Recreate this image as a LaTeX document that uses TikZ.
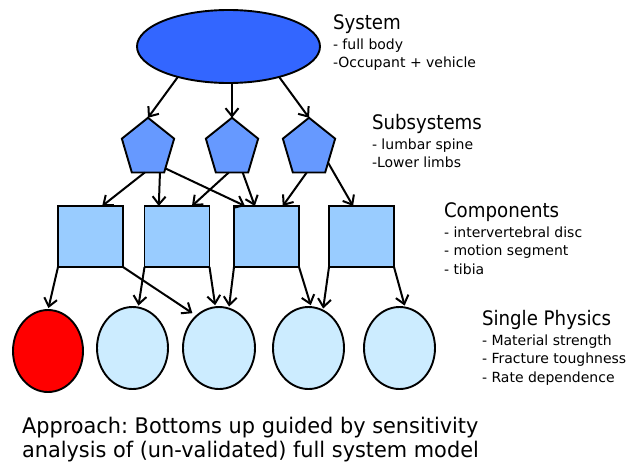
\documentclass[tikz,border=0pt]{standalone}
\usepackage{fontspec}
\setmainfont{DejaVu Sans}
\newfontfamily\headfont[FakeStretch=0.91]{DejaVu Sans}
\newfontfamily\notefont[FakeStretch=0.97]{DejaVu Sans}
\usetikzlibrary{shapes.geometric,arrows.meta,calc}
\frenchspacing

\definecolor{sysblue}{HTML}{3366FF}
\definecolor{subblue}{HTML}{6699FF}
\definecolor{compblue}{HTML}{99CCFF}
\definecolor{physblue}{HTML}{CCECFF}
\definecolor{physred}{HTML}{FF0000}

\begin{document}
\begin{tikzpicture}[x=1pt,y=-1pt,
  every node/.style={inner sep=0pt, outer sep=0pt},
  shapeline/.style={draw=black, line width=1.9pt},
  sysnode/.style={shapeline, ellipse, fill=sysblue, minimum width=183pt, minimum height=73pt},
  subnode/.style={shapeline, regular polygon, regular polygon sides=5, fill=subblue,
                  minimum size=55pt, yscale=1.1, transform shape},
  compnode/.style={shapeline, rectangle, fill=compblue, minimum width=65pt, minimum height=61pt},
  physnode/.style={shapeline, ellipse, fill=physblue, minimum width=71pt, minimum height=82pt},
  edge/.style={draw=black, line width=2pt, -{Straight Barb[length=8pt,width=13pt]}},
  heading/.style={anchor=base west, font=\headfont\fontsize{20}{24}\selectfont},
  itemlist/.style={anchor=base west, font=\fontsize{14}{18.5}\selectfont},
  note/.style={anchor=base west, font=\notefont\fontsize{21.5}{24.5}\selectfont},
]
\useasboundingbox (0,0) rectangle (628,466);

% system level
\node[sysnode] (E) at (228.5,46.5) {};

% subsystems
\node[subnode] (P1) at (148,148) {};
\node[subnode] (P2) at (232,148) {};
\node[subnode] (P3) at (309,148) {};

% components
\node[compnode] (R1) at (90.5,236.5) {};
\node[compnode] (R2) at (177,236.5) {};
\node[compnode] (R3) at (266.5,236.5) {};
\node[compnode] (R4) at (361.5,236.5) {};

% single physics
\node[physnode, fill=physred, minimum width=70pt] (C1) at (48,351) {};
\node[physnode] (C2) at (132.5,348) {};
\node[physnode, minimum width=72pt] (C3) at (219,348) {};
\node[physnode] (C4) at (308.5,348) {};
\node[physnode] (C5) at (399.5,348) {};

% system -> subsystems
\draw[edge] (E.211) -- (P1.north);
\draw[edge] (E.south -| P2.north) -- (P2.north);
\draw[edge] (E.329) -- (P3.north);

% subsystems -> components
\draw[edge] ($(P1.corner 3)!0.4!(P1.corner 4)$) -- ($(R1.north west)!0.68!(R1.north east)$);
\draw[edge] ($(P1.corner 3)!0.87!(P1.corner 4)$) -- ($(R2.north west)!0.22!(R2.north east)$);
\draw[edge] ($(P1.corner 4)!0.12!(P1.corner 5)$) -- ($(R3.north west)!0.17!(R3.north east)$);
\draw[edge] ($(P2.corner 3)!0.4!(P2.corner 4)$) -- ($(R2.north west)!0.73!(R2.north east)$);
\draw[edge] ($(P2.corner 3)!0.83!(P2.corner 4)$) -- ($(R3.north west)!0.32!(R3.north east)$);
\draw[edge] ($(P3.corner 3)!0.43!(P3.corner 4)$) -- ($(R3.north west)!0.75!(R3.north east)$);
\draw[edge] ($(P3.corner 4)!0.29!(P3.corner 5)$) -- ($(R4.north west)!0.37!(R4.north east)$);

% components -> single physics
\draw[edge, shorten >=2pt] (R1.south west) -- (C1.north);
\draw[edge, shorten >=5pt] (R1.south east) -- (C3.125);
\draw[edge, shorten >=2pt] (R2.south west) -- (C2.82);
\draw[edge, shorten >=2pt] (R2.south east) -- (C3.95);
\draw[edge, shorten >=2pt] (R3.south west) -- (C3.76);
\draw[edge, shorten >=2pt] (R3.south east) -- (C4.86);
\draw[edge, shorten >=2pt] (R4.south west) -- (C4.69);
\draw[edge, shorten >=2pt] (R4.south east) -- (C5.82);

% level descriptions
\node[heading] (tsys) at (333,29) {System};
\node[itemlist] (lsys) at (333,49) {\begin{tabular}[t]{@{}l@{}}- full body\\-Occupant + vehicle\end{tabular}};

\node[heading] (tsub) at (372,129) {Subsystems};
\node[itemlist] (lsub) at (372,149) {\begin{tabular}[t]{@{}l@{}}- lumbar spine\\-Lower limbs\end{tabular}};

\node[heading] (tcomp) at (444,217) {Components};
\node[itemlist] (lcomp) at (444,237) {\begin{tabular}[t]{@{}l@{}}- intervertebral disc\\- motion segment\\- tibia\end{tabular}};

\node[heading] (tphys) at (482,325) {Single Physics};
\node[itemlist] (lphys) at (482,345) {\begin{tabular}[t]{@{}l@{}}- Material strength\\- Fracture toughness\\- Rate dependence\end{tabular}};

% approach statement
\node[note] (approach) at (22,433) {\begin{tabular}[t]{@{}l@{}}Approach: Bottoms up guided by sensitivity\\analysis of (un-validated) full system model\end{tabular}};
\end{tikzpicture}
\end{document}
